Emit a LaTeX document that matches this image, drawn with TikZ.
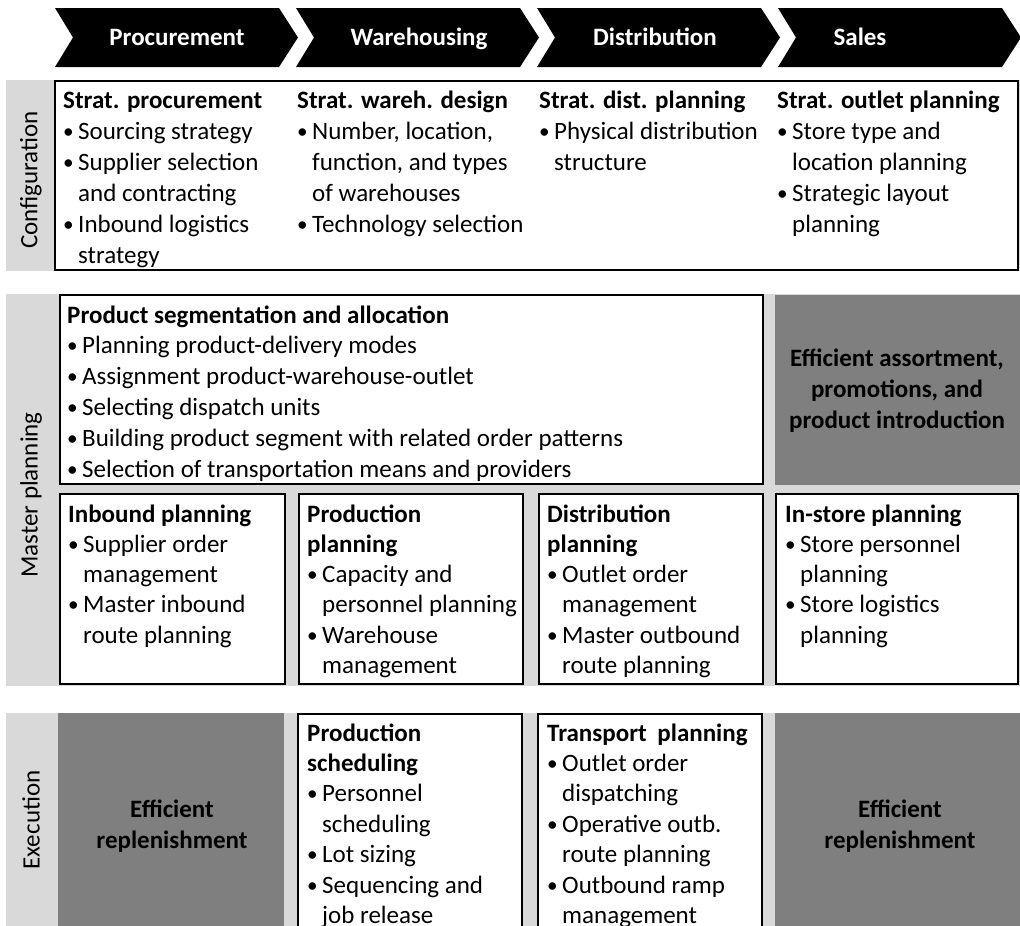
\documentclass[tikz,border=0pt]{standalone}
\usepackage{fontspec}
\setmainfont{Carlito}
\definecolor{bandgray}{HTML}{D9D9D9}
\definecolor{darkgray}{HTML}{7F7F7F}
\newcommand\bul{\makebox[15pt][l]{\raisebox{1pt}{\scalebox{0.85}{\textbullet}}}}
\newcommand\ind{\hspace*{15pt}}
\newcommand\tb[2]{\parbox[t]{900pt}{\fontsize{25}{#1}\selectfont\raggedright #2}}
\tikzset{
  band/.style={fill=bandgray, draw=none},
  wbox/.style={fill=white, draw=black, line width=1.2pt},
  dbox/.style={fill=darkgray, draw=none},
  chev/.style={fill=black},
  clabel/.style={anchor=base, text=white, font=\fontsize{25}{30}\selectfont\bfseries, inner sep=0pt},
  rowlabel/.style={rotate=90, font=\fontsize{25}{30}\selectfont, inner sep=0pt},
  txt/.style={anchor=base west, inner sep=0pt},
  dtext/.style={align=center, font=\fontsize{25}{31}\selectfont\bfseries, inner sep=0pt}
}
\begin{document}
\begin{tikzpicture}[x=1pt, y=-1pt]
\useasboundingbox (0,0) rectangle (1020,926);
% chevrons
\foreach \xx in {55,296,537,778}{
  \fill[chev] (\xx,8) -- (\xx+224,8) -- (\xx+243,37.5) -- (\xx+224,67) -- (\xx,67) -- (\xx+18,37.5) -- cycle;
}
\node[clabel] (hproc) at (177,45) {Procurement};
\node[clabel] (hware) at (419,45) {Warehousing};
\node[clabel] (hdist) at (655,45) {Distribution};
\node[clabel] (hsale) at (860,45) {Sales};

% bands
\fill[band] (6,80) rectangle (1020,271);
\fill[band] (6,294) rectangle (1020,686);
\fill[band] (6,713) rectangle (1020,926);

\node[rowlabel] (lconf) at (31,180) {Configuration};
\node[rowlabel] (lmast) at (31,495) {Master planning};
\node[rowlabel] (lexec) at (31,820) {Execution};

% configuration
\draw[wbox] (55,81) rectangle (1018,270);
\node[txt] (c1) at (63,108) {\tb{31pt}{\textbf{Strat. procurement}\\ \bul Sourcing strategy\\ \bul Supplier selection\\ \ind and contracting\\ \bul Inbound logistics\\ \ind strategy}};
\node[txt] (c2) at (297,108) {\tb{31pt}{\textbf{Strat. wareh. design}\\ \bul Number, location,\\ \ind function, and types\\ \ind of warehouses\\ \bul Technology selection}};
\node[txt] (c3) at (539,108) {\tb{31pt}{\textbf{Strat. dist. planning}\\ \bul Physical distribution\\ \ind structure}};
\node[txt] (c4) at (777,108) {\tb{31pt}{\textbf{Strat. outlet planning}\\ \bul Store type and\\ \ind location planning\\ \bul Strategic layout\\ \ind planning}};

% master planning
\draw[wbox] (60,295) rectangle (763,484);
\node[txt] (m0) at (67,323) {\tb{30.8pt}{\textbf{Product segmentation and allocation}\\ \bul Planning product-delivery modes\\ \bul Assignment product-warehouse-outlet\\ \bul Selecting dispatch units\\ \bul Building product segment with related order patterns\\ \bul Selection of transportation means and providers}};
\fill[dbox] (775,295) rectangle (1020,485);
\node[dtext] (meff) at (897,391) {Efficient assortment,\\ promotions, and\\ product introduction};

\draw[wbox] (60,494) rectangle (285,684);
\draw[wbox] (299,494) rectangle (523,684);
\draw[wbox] (539,494) rectangle (763,684);
\draw[wbox] (776,494) rectangle (1018,684);
\node[txt] (m1) at (68,522) {\tb{30.3pt}{\textbf{Inbound planning}\\ \bul Supplier order\\ \ind management\\ \bul Master inbound\\ \ind route planning}};
\node[txt] (m2) at (307,522) {\tb{30.3pt}{\textbf{Production}\\ \textbf{planning}\\ \bul Capacity and\\ \ind personnel planning\\ \bul Warehouse\\ \ind management}};
\node[txt] (m3) at (547,522) {\tb{30.3pt}{\textbf{Distribution}\\ \textbf{planning}\\ \bul Outlet order\\ \ind management\\ \bul Master outbound\\ \ind route planning}};
\node[txt] (m4) at (785,522) {\tb{30.3pt}{\textbf{In-store planning}\\ \bul Store personnel\\ \ind planning\\ \bul Store logistics\\ \ind planning}};

% execution
\fill[dbox] (58,713) rectangle (284,926);
\fill[dbox] (775,713) rectangle (1020,926);
\draw[wbox] (298,714) rectangle (522,940);
\draw[wbox] (538,714) rectangle (762,940);
\node[dtext] (e1) at (172,826) {Efficient\\ replenishment};
\node[dtext] (e4) at (900,826) {Efficient\\ replenishment};
\node[txt] (e2) at (307,741) {\tb{30.4pt}{\textbf{Production}\\ \textbf{scheduling}\\ \bul Personnel\\ \ind scheduling\\ \bul Lot sizing\\ \bul Sequencing and\\ \ind job release}};
\node[txt] (e3) at (547,741) {\tb{30.4pt}{\textbf{Transport\hspace{5pt} planning}\\ \bul Outlet order\\ \ind dispatching\\ \bul Operative outb.\\ \ind route planning\\ \bul Outbound ramp\\ \ind management}};
\end{tikzpicture}
\end{document}
